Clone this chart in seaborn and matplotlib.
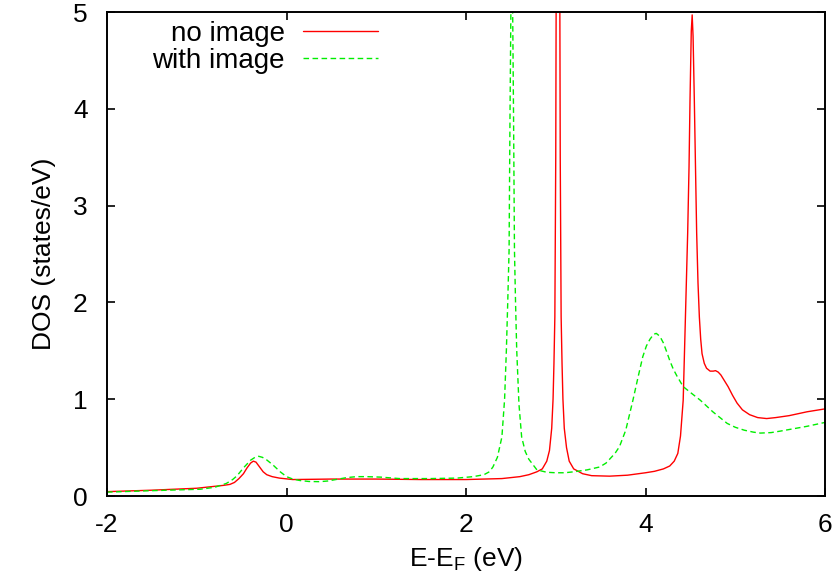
import matplotlib
matplotlib.use("Agg")
import matplotlib.pyplot as plt
import seaborn as sns
import pandas as pd

# ---- data ----
energy_no_image = [-2.0, -1.5, -1.0, -0.8, -0.7, -0.63, -0.58, -0.53, -0.48, -0.44, -0.40, -0.37,
                   -0.34, -0.30, -0.26, -0.22, -0.16, -0.08, 0.07, 0.5, 1.0, 1.5, 2.0, 2.4, 2.6,
                   2.7, 2.79, 2.85, 2.9, 2.93, 2.955, 2.97, 2.98, 2.99, 3.0, 3.01, 3.025, 3.04,
                   3.05, 3.06, 3.07, 3.08, 3.095, 3.12, 3.15, 3.2, 3.3, 3.4, 3.6, 3.8, 4.0, 4.1,
                   4.2, 4.27, 4.32, 4.36, 4.39, 4.42, 4.44, 4.455, 4.47, 4.485, 4.496, 4.51, 4.52,
                   4.53, 4.544, 4.557, 4.57, 4.585, 4.60, 4.615, 4.63, 4.655, 4.68, 4.72, 4.755,
                   4.78, 4.81, 4.84, 4.88, 4.92, 4.97, 5.02, 5.08, 5.16, 5.25, 5.35, 5.45, 5.6,
                   5.8, 6.0]
dos_no_image = [0.045, 0.06, 0.08, 0.10, 0.11, 0.12, 0.14, 0.18, 0.23, 0.29, 0.34, 0.36,
                0.35, 0.30, 0.25, 0.22, 0.20, 0.185, 0.17, 0.175, 0.175, 0.17, 0.17, 0.18, 0.20,
                0.22, 0.25, 0.28, 0.36, 0.47, 0.70, 1.0, 1.37, 1.85, 3.5, 7.1, 20.0, 7.1,
                3.5, 1.85, 1.37, 1.0, 0.70, 0.50, 0.36, 0.28, 0.23, 0.21, 0.205, 0.215, 0.24, 0.255,
                0.28, 0.31, 0.36, 0.44, 0.62, 0.99, 1.68, 2.2, 2.72, 3.4, 4.09, 4.8, 4.97,
                4.75, 4.09, 3.4, 2.72, 2.2, 1.85, 1.62, 1.47, 1.37, 1.32, 1.29, 1.29,
                1.295, 1.28, 1.25, 1.19, 1.13, 1.04, 0.96, 0.89, 0.84, 0.81, 0.80, 0.81, 0.83,
                0.87, 0.90]

energy_with_image = [-2.0, -1.5, -0.96, -0.8, -0.67, -0.6, -0.55, -0.48, -0.44, -0.40, -0.35, -0.31,
                     -0.27, -0.23, -0.15, -0.07, 0.0, 0.07, 0.15, 0.25, 0.37, 0.46, 0.55, 0.67, 0.78,
                     0.89, 1.05, 1.26, 1.6, 1.9, 2.08, 2.2, 2.26, 2.30, 2.35, 2.40, 2.43, 2.45, 2.465,
                     2.48, 2.49, 2.50, 2.51, 2.52, 2.53, 2.54, 2.552, 2.565, 2.59, 2.62, 2.66, 2.70,
                     2.79, 2.9, 3.0, 3.1, 3.2, 3.35, 3.49, 3.56, 3.6, 3.66, 3.71, 3.78, 3.86, 3.92,
                     3.97, 4.01, 4.05, 4.09, 4.12, 4.16, 4.2, 4.24, 4.27, 4.31, 4.35, 4.42, 4.5,
                     4.61, 4.75, 4.83, 4.91, 5.0, 5.1, 5.2, 5.28, 5.4, 5.5, 5.65, 5.8, 6.0]
dos_with_image = [0.04, 0.055, 0.07, 0.09, 0.13, 0.17, 0.21, 0.29, 0.33, 0.37, 0.40, 0.41,
                  0.40, 0.38, 0.32, 0.25, 0.20, 0.175, 0.16, 0.15, 0.148, 0.155, 0.17, 0.19, 0.20,
                  0.20, 0.195, 0.18, 0.18, 0.185, 0.20, 0.22, 0.25, 0.30, 0.40, 0.61, 1.0, 1.51, 2.0,
                  2.54, 3.9, 5.0, 5.6, 5.0, 3.9, 2.54, 2.0, 1.51, 0.95, 0.61, 0.46, 0.38,
                  0.27, 0.245, 0.24, 0.24, 0.25, 0.27, 0.30, 0.34, 0.38, 0.44, 0.51, 0.68, 0.99, 1.24,
                  1.44, 1.55, 1.62, 1.67, 1.68, 1.65, 1.58, 1.48, 1.40, 1.31, 1.24, 1.13, 1.07,
                  0.99, 0.87, 0.81, 0.75, 0.71, 0.68, 0.66, 0.65, 0.655, 0.67, 0.695, 0.72, 0.76]

series_labels = ["no image", "with image"]
x_ticks = [-2, 0, 2, 4, 6]
y_ticks = [0, 1, 2, 3, 4, 5]

# ---- plotting ----
sns.set_style("ticks")
plt.rcParams["font.family"] = ["Liberation Sans", "DejaVu Sans"]
plt.rcParams["mathtext.fontset"] = "custom"
plt.rcParams["mathtext.rm"] = "Liberation Sans"
plt.rcParams["text.color"] = "black"
plt.rcParams["axes.labelcolor"] = "black"
plt.rcParams["xtick.color"] = "black"
plt.rcParams["ytick.color"] = "black"

fig = plt.figure(figsize=(8.39, 5.83), dpi=100)
ax = fig.add_axes([107 / 839, 87 / 583, 718 / 839, 484 / 583])

df1 = pd.DataFrame({"E": energy_no_image, "DOS": dos_no_image})
df2 = pd.DataFrame({"E": energy_with_image, "DOS": dos_with_image})

sns.lineplot(data=df1, x="E", y="DOS", ax=ax, color="#ff0000", linewidth=1.0,
             label=series_labels[0])
sns.lineplot(data=df2, x="E", y="DOS", ax=ax, color="#00ee00", linewidth=1.0,
             label=series_labels[1])
ax.lines[1].set_dashes((4, 2.5))

ax.set_xlim(-2, 6)
ax.set_ylim(0, 5)
ax.set_xticks(x_ticks)
ax.set_yticks(y_ticks)
ax.set_xticklabels([str(t) for t in x_ticks])
ax.set_yticklabels([str(t) for t in y_ticks])

fs = 19
ax.tick_params(direction="in", length=6, width=1.2, top=True, right=True,
               labelsize=fs, colors="black")
ax.tick_params(axis="x", pad=12)
ax.tick_params(axis="y", pad=14)
for sp in ax.spines.values():
    sp.set_visible(True)
    sp.set_linewidth(1.4)
    sp.set_color("black")

ax.set_xlabel(r"E-E$_\mathregular{F}$ (eV)", fontsize=fs, labelpad=6)
ax.set_ylabel("DOS (states/eV)", fontsize=fs, labelpad=12)

leg = ax.legend(loc="upper right", bbox_to_anchor=((378 - 107) / 718, 1.0 - 9 / 484),
                frameon=False, fontsize=20, markerfirst=False, handlelength=2.7,
                handletextpad=0.65, labelspacing=0.02, borderpad=0.0, borderaxespad=0.0)
for t in leg.get_texts():
    t.set_color("black")

fig.savefig("out.png", dpi=100)
